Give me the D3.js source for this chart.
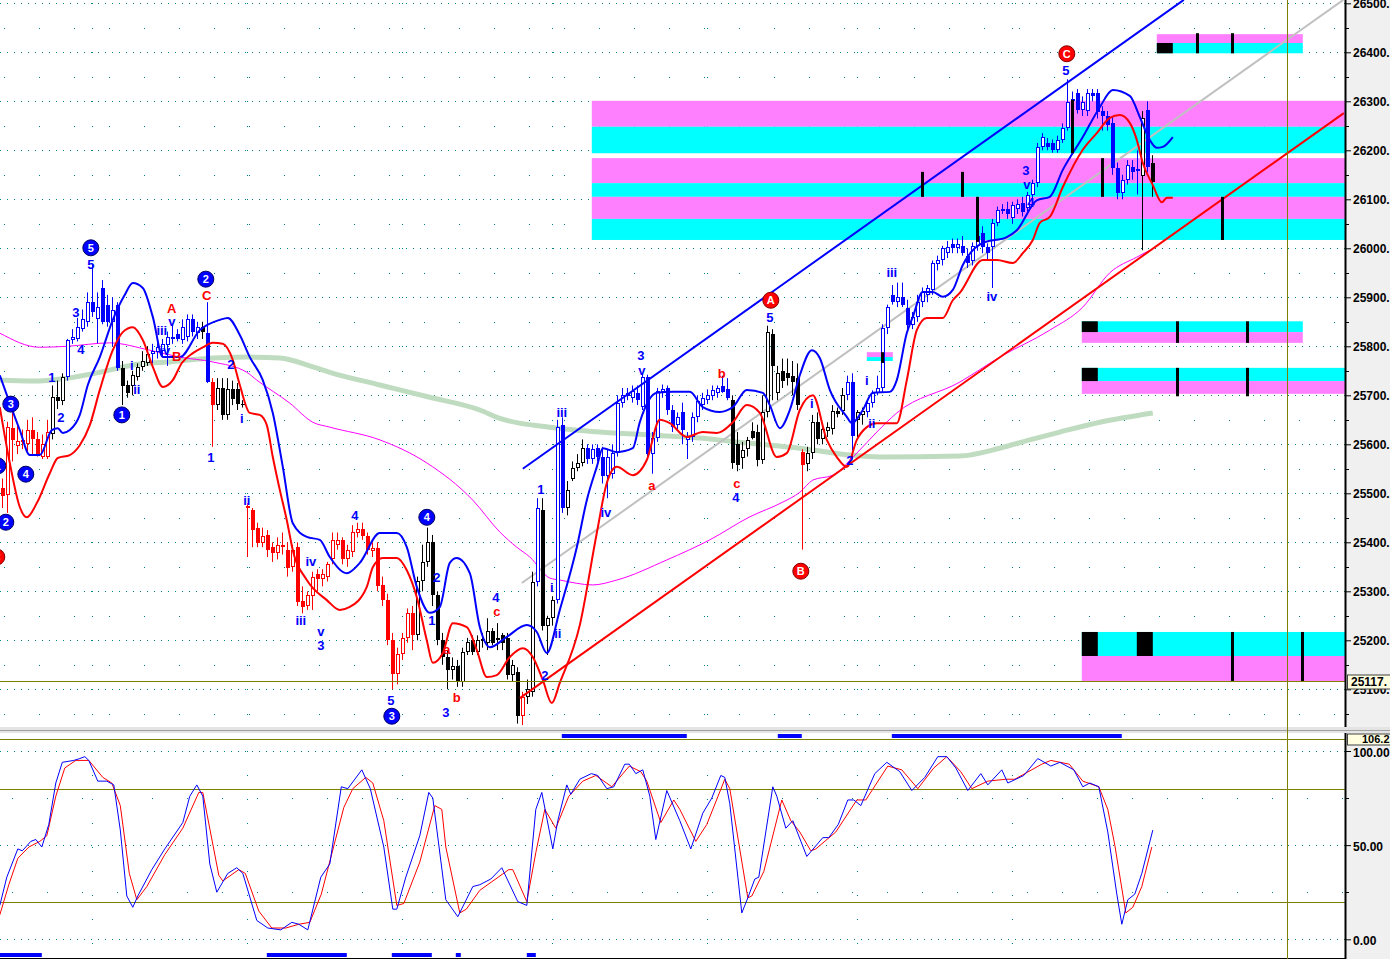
<!DOCTYPE html>
<html><head><meta charset="utf-8">
<script src="https://cdn.jsdelivr.net/npm/d3@7"></script>
<style>body{margin:0;background:#fff;overflow:hidden}svg{display:block}</style>
</head><body><svg id="c" width="1390" height="959"></svg>
<script>
// ---------- DATA ----------
const candleOpen=[25510,25497,25633,25596,25605,25600,25630,25610,25575,25575,
25622,25697,25688,25738,25812,25815,25835,25850,25890,25855,
25920,25885,25850,25885,25755,25722,25718,25738,25758,25765,
25785,25788,25790,25802,25818,25825,25812,25818,25855,25828,
25840,25828,25728,25680,25715,25660,25713,25713,25683,25475,
25466,25430,25398,25415,25390,25378,25395,25385,25350,25390,
25280,25270,25290,25335,25325,25330,25365,25395,25405,25365,
25380,25418,25428,25412,25383,25388,25312,25282,25200,25132,
25173,25204,25255,25210,25322,25360,25400,25292,25200,25165,
25140,25147,25115,25177,25200,25177,25198,25195,25218,25200,
25210,25205,25130,25135,25045,25085,25095,25320,25465,25230,
25245,25282,25640,25470,25530,25552,25562,25593,25570,25592,
25575,25535,25540,25582,25685,25705,25695,25705,25677,25737,
25580,25612,25706,25715,25670,25640,25665,25608,25615,25655,
25680,25690,25698,25705,25718,25712,25690,25600,25572,25590,
25628,25625,25568,25665,25825,25705,25750,25745,25740,25735,
25585,25560,25583,25645,25610,25628,25632,25668,25668,25700,
25727,25650,25660,25665,25685,25705,25715,25837,25905,25890,
25900,25878,25843,25860,25890,25905,25915,25968,25976,25990,
26008,26000,26005,25985,25975,26005,26031,26003,26003,26052,
26076,26080,26062,26080,26092,26082,26109,26133,26207,26215,
26215,26201,26221,26245,26300,26317,26282,26280,26317,26317,
26280,26270,26256,26164,26113,26139,26165,26162,26147,26282,
26174];
const candleHigh=[25530,25646,25665,25640,25630,25650,25655,25625,25620,25650,
25720,25730,25745,25815,25835,25858,25875,25910,25966,25910,
25935,25905,25900,25890,25770,25730,25750,25765,25790,25800,
25805,25810,25815,25830,25845,25835,25855,25865,25865,25850,
25850,25890,25735,25735,25735,25735,25730,25725,25690,25480,
25470,25440,25430,25425,25400,25410,25420,25400,25395,25400,
25310,25300,25340,25345,25345,25360,25420,25420,25410,25395,
25435,25440,25440,25420,25400,25400,25330,25295,25215,25185,
25215,25265,25270,25330,25395,25430,25415,25300,25215,25180,
25165,25160,25185,25205,25210,25210,25215,25245,25225,25235,
25215,25215,25160,25145,25095,25120,25340,25490,25490,25250,
25290,25650,25655,25525,25565,25580,25610,25600,25600,25600,
25595,25590,25600,25700,25715,25715,25720,25720,25745,25742,
25625,25715,25722,25720,25680,25665,25685,25625,25665,25700,
25705,25712,25720,25720,25740,25735,25700,25625,25605,25615,
25645,25640,25700,25842,25835,25760,25775,25775,25770,25765,
25590,25595,25660,25665,25640,25645,25680,25675,25715,25740,
25745,25670,25675,25690,25710,25740,25845,25885,25925,25930,
25930,25895,25870,25905,25920,25925,25975,25985,26005,26015,
26020,26020,26025,26000,26012,26035,26045,26010,26060,26085,
26090,26095,26095,26100,26105,26115,26140,26215,26235,26225,
26222,26230,26255,26345,26320,26325,26310,26325,26325,26325,
26290,26280,26270,26175,26150,26180,26180,26200,26280,26300,
26190];
const candleLow=[25470,25460,25565,25580,25590,25585,25580,25575,25570,25570,
25610,25672,25680,25730,25805,25810,25830,25840,25860,25806,
25845,25840,25800,25750,25680,25695,25700,25730,25750,25760,
25765,25775,25780,25760,25805,25810,25805,25810,25820,25815,
25815,25725,25595,25670,25650,25650,25680,25670,25675,25370,
25390,25390,25390,25370,25360,25365,25375,25330,25340,25270,
25255,25262,25262,25300,25310,25320,25355,25385,25355,25350,
25370,25410,25405,25375,25370,25300,25270,25190,25100,25110,
25160,25195,25180,25200,25300,25350,25270,25190,25150,25100,
25120,25105,25105,25170,25170,25170,25185,25180,25190,25180,
25180,25120,25115,25030,25027,25070,25085,25310,25220,25170,
25230,25275,25460,25455,25525,25545,25555,25560,25560,25565,
25520,25490,25530,25575,25675,25690,25685,25680,25670,25570,
25540,25605,25695,25660,25625,25630,25600,25570,25605,25645,
25670,25682,25690,25695,25705,25690,25550,25545,25550,25575,
25610,25555,25560,25655,25690,25690,25715,25720,25700,25670,
25385,25545,25570,25600,25600,25615,25620,25655,25660,25690,
25570,25615,25640,25655,25675,25700,25705,25825,25885,25880,
25880,25830,25835,25850,25880,25890,25905,25955,25965,25980,
25990,25990,25985,25960,25965,25995,25990,25975,25919,26045,
26070,26060,26050,26070,26065,26075,26100,26125,26200,26200,
26195,26195,26215,26240,26285,26275,26270,26270,26300,26265,
26240,26240,26150,26100,26100,26130,26140,26110,25996,26155,
26105];
const candleClose=[25495,25636,25608,25606,25608,25630,25610,25580,25600,25625,
25697,25688,25738,25812,25818,25840,25855,25890,25870,25880,
25850,25850,25875,25755,25718,25705,25742,25758,25770,25785,
25790,25798,25805,25818,25820,25815,25840,25855,25830,25840,
25830,25728,25680,25715,25660,25713,25693,25683,25680,25470,
25425,25398,25412,25384,25378,25395,25390,25348,25385,25278,
25268,25292,25330,25325,25335,25355,25405,25405,25365,25385,
25420,25428,25412,25385,25388,25310,25282,25200,25132,25173,
25204,25255,25210,25322,25360,25400,25292,25200,25165,25140,
25147,25115,25177,25197,25177,25200,25202,25218,25195,25205,
25195,25130,25150,25045,25085,25100,25320,25470,25230,25245,
25282,25636,25470,25507,25552,25562,25593,25570,25590,25575,
25535,25575,25582,25685,25700,25698,25708,25690,25737,25580,
25612,25708,25712,25670,25635,25655,25630,25615,25655,25688,
25695,25700,25710,25715,25706,25695,25562,25558,25588,25608,
25612,25568,25665,25830,25760,25745,25730,25735,25728,25680,
25558,25583,25645,25610,25632,25635,25668,25662,25700,25727,
25616,25665,25668,25685,25705,25715,25837,25880,25890,25900,
25885,25843,25860,25890,25910,25918,25970,25976,26000,26003,
26000,26008,25990,25970,26005,26025,26003,25990,26052,26078,
26080,26070,26088,26090,26074,26109,26133,26207,26227,26207,
26201,26221,26245,26299,26305,26282,26299,26317,26310,26278,
26270,26252,26164,26113,26139,26170,26155,26158,26266,26166,
26135];
// candle colour class by runs: r = red (downtrend), b = blue (uptrend), k = neutral black
const toneRuns=[["r",10],["k",3],["b",11],["k",6],["b",10],["k",1],["b",1],["r",1],["k",6],["r",34],["k",21],["r",1],["k",2],["b",1],["k",3],["b",2],["k",4],["b",29],["k",14],["r",1],["k",8],["b",2],["k",2],["b",55],["k",1],["b",1],["k",1]];

// indicator lines, [bar index, price]
const bandUpper=[[-0.5,25741],[3.5,25629],[5.5,25578],[7.5,25578],[9.9,25629],[11.1,25633],[12.1,25623],[13.5,25629],[15.5,25660],[17.1,25721],[19.5,25778],[22.1,25854],[24.5,25905],[26.1,25929],[28.1,25919],[30.1,25860],[32.1,25778],[35.5,25778],[39.5,25833],[43.5,25854],[45.1,25858],[47.5,25823],[49.5,25778],[52.1,25731],[54.1,25664],[56.1,25554],[58.1,25439],[60.9,25411],[63.5,25405],[65.5,25370],[68.9,25337],[71.5,25358],[75.5,25419],[78.9,25419],[80.9,25390],[82.9,25309],[85.5,25256],[87.5,25268],[89.5,25358],[90.9,25368],[93.5,25337],[95.5,25227],[97.5,25186],[100.9,25207],[104.9,25231],[106.9,25217],[108.9,25174],[111.5,25262],[114.9,25390],[116.9,25486],[118.9,25554],[120.1,25592],[122.9,25584],[126.1,25592],[127.5,25645],[130.9,25705],[134.1,25707],[137.5,25707],[140.1,25676],[143.5,25666],[146.1,25676],[148.9,25711],[152.1,25705],[153.5,25680],[155.5,25633],[157.5,25670],[159.5,25741],[161.9,25792],[163.5,25776],[165.5,25711],[168.9,25656],[169.9,25643],[172.1,25670],[174.1,25705],[177.5,25707],[178.9,25731],[180.9,25827],[182.1,25860],[184.1,25911],[186.1,25911],[188.1,25901],[190.1,25915],[192.1,25966],[196.1,26011],[200.9,26023],[202.9,26037],[206.9,26098],[209.5,26105],[212.1,26160],[216.1,26227],[219.5,26288],[222.1,26323],[225.5,26311],[227.5,26268],[229.5,26221],[230.9,26205],[232.1,26207],[234.1,26227]];
const bandLower=[[-0.5,25676],[1.5,25562],[3.5,25472],[4.9,25451],[6.9,25480],[9.5,25541],[11.1,25572],[13.5,25578],[15.5,25598],[17.5,25639],[19.5,25711],[22.1,25792],[24.1,25829],[26.1,25839],[28.1,25813],[30.1,25758],[32.1,25717],[34.1,25731],[35.9,25766],[38.1,25786],[40.1,25798],[42.1,25807],[44.1,25805],[46.1,25772],[47.5,25721],[49.5,25664],[51.5,25660],[52.9,25639],[54.1,25574],[55.5,25507],[56.9,25445],[58.1,25384],[60.9,25323],[64.9,25282],[67.5,25262],[69.5,25268],[72.9,25309],[74.1,25349],[76.1,25368],[78.9,25368],[80.9,25343],[82.9,25288],[84.9,25200],[86.1,25154],[88.1,25174],[90.1,25235],[92.9,25227],[94.9,25180],[96.9,25125],[98.9,25129],[101.5,25166],[104.1,25184],[106.1,25166],[108.1,25119],[109.9,25072],[111.5,25113],[115.5,25231],[118.9,25419],[120.9,25521],[122.9,25554],[126.1,25537],[128.9,25568],[131.5,25650],[133.5,25643],[136.9,25615],[140.1,25625],[142.9,25623],[146.1,25645],[148.9,25680],[151.5,25664],[154.9,25574],[156.9,25582],[159.5,25670],[162.1,25700],[164.9,25609],[166.9,25574],[168.9,25554],[170.9,25609],[172.9,25635],[174.9,25643],[178.9,25643],[180.9,25731],[182.9,25833],[184.9,25858],[188.1,25858],[190.1,25894],[191.5,25909],[196.1,25976],[198.9,25976],[202.1,25970],[204.1,25990],[206.1,26017],[207.5,26052],[209.5,26064],[212.1,26125],[216.1,26201],[218.9,26235],[221.5,26266],[223.5,26272],[225.5,26256],[226.9,26221],[228.1,26174],[230.1,26129],[231.9,26094],[232.9,26103],[234.1,26103]];
const maSlow=[[-0.5,25827],[7.5,25798],[12.9,25800],[21.5,25807],[29.5,25792],[35.5,25778],[42.1,25768],[48.9,25747],[50.9,25731],[57.5,25684],[62.1,25645],[65.5,25635],[75.5,25609],[84.9,25562],[94.1,25486],[99.5,25421],[102.9,25390],[105.5,25370],[109.5,25327],[111.5,25323],[118.1,25313],[122.9,25323],[132.9,25364],[141.5,25405],[149.5,25452],[156.1,25482],[159.5,25502],[162.1,25527],[166.1,25537],[170.9,25582],[174.9,25625],[178.9,25664],[191.5,25727],[199.5,25778],[209.5,25833],[216.1,25880],[221.5,25950],[226.9,25982],[229.5,25996]];
const maLong=[[-0.5,25731],[6.1,25729],[12.9,25735],[19.5,25747],[26.1,25762],[32.9,25768],[39.5,25774],[48.9,25778],[55.5,25776],[62.1,25758],[65.5,25747],[75.5,25721],[85.5,25696],[95.5,25670],[99.5,25653],[109.5,25635],[119.5,25625],[129.5,25619],[139.5,25613],[149.5,25602],[159.5,25592],[169.5,25578],[175.5,25574],[191.5,25576],[199.5,25592],[205.5,25609],[211.5,25625],[219.5,25645],[230.1,25664]];

// trend lines [idx1, price1, idx2, price2]
const trendBlue=[104.1,25550,236.3,26507];
const trendGray=[103.9,25317,268.2,26507];
const trendRed=[103.5,25082,268.3,26276];

// zone bands [idx0, idx1, priceTop, priceBottom, colour]
const bandRows=[[117.9,268.6,26301,26248,"m"],[117.9,268.6,26248,26194,"c"],[117.9,268.6,26184,26133,"m"],[117.9,268.6,26133,26105,"c"],[117.9,268.6,26105,26060,"m"],[117.9,268.6,26060,26017,"c"],
[230.9,260.1,26437,26419,"m"],[230.9,260.1,26419,26398,"c"],
[215.9,260.1,25851,25829,"c"],[215.9,260.1,25829,25807,"m"],
[215.9,268.6,25756,25729,"c"],[215.9,268.6,25729,25703,"m"],
[215.9,268.6,25217,25168,"c"],[215.9,268.6,25168,25117,"m"],
[172.9,178.1,25788,25778,"m"],[172.9,178.1,25778,25770,"c"]];
const bandBlocks=[[230.9,234.1,26419,26398],[215.9,219.1,25851,25829],[215.9,219.1,25756,25729],[215.9,219.1,25217,25168],[226.9,230.1,25217,25168]];
const bandTicks=[[184,26156,26105],[192,26156,26105],[195,26105,26013],[214,26303,26194],[220,26184,26105],[244,26105,26017],[239,26439,26398],[246,26439,26398],[235,25851,25807],[249,25851,25807],[235,25756,25698],[249,25756,25698],[246,25217,25115],[260,25217,25115],[176,25788,25766]];

// Elliott wave labels [text, idx, price, colour]
const waveLabels=[["5",17.7,25968,"b"],["3",14.7,25870,"b"],["4",15.7,25794,"b"],["1",9.9,25737,"b"],["2",11.7,25656,"b"],["i",25.9,25762,"b"],["ii",26.9,25713,"b"],["iii",31.9,25833,"b"],["v",33.9,25852,"b"],["A",33.9,25878,"r"],["iv",32.5,25792,"b"],["B",34.9,25780,"r"],["C",40.9,25905,"r"],["2",45.7,25764,"b"],["1",41.7,25574,"b"],["i",47.9,25654,"b"],["ii",48.9,25486,"b"],["iii",59.7,25241,"b"],["iv",61.7,25362,"b"],["v",63.7,25219,"b"],["3",63.7,25190,"b"],["4",70.5,25456,"b"],["5",77.7,25078,"b"],["2",86.9,25329,"b"],["1",85.9,25241,"b"],["a",88.9,25182,"r"],["b",90.9,25084,"r"],["3",88.7,25053,"b"],["4",98.7,25288,"b"],["c",98.9,25260,"r"],["1",107.7,25509,"b"],["2",108.5,25129,"b"],["i",109.9,25309,"b"],["ii",111.1,25215,"b"],["iii",111.9,25666,"b"],["iv",120.7,25462,"b"],["3",127.7,25782,"b"],["v",127.9,25752,"b"],["a",129.9,25517,"r"],["b",143.9,25745,"r"],["c",146.9,25521,"r"],["4",146.7,25492,"b"],["5",153.5,25860,"b"],["i",161.9,25684,"b"],["i",172.9,25731,"b"],["ii",173.9,25643,"b"],["2",169.5,25568,"b"],["iii",177.9,25950,"b"],["iv",197.9,25901,"b"],["3",204.7,26160,"b"],["v",204.9,26131,"b"],["4",205.7,26094,"b"],["5",212.7,26364,"b"]];
const circleLabels=[["5",17.7,26001,"b"],["2",40.7,25937,"b"],["3",1.7,25682,"b"],["4",4.7,25539,"b"],["2",0.7,25441,"b"],["1",23.9,25660,"b"],["4",84.9,25451,"b"],["3",77.9,25045,"b"],["1",-0.9,25556,"b"],["C",212.9,26397,"r"],["A",153.7,25894,"r"],["B",159.7,25341,"r"],["C",-1.1,25370,"r"]];

// stochastic oscillator [idx, value]
const stochK=[[-0.5,18],[0.9,33],[3.1,48],[4.0,47],[5.7,52],[6.7,53],[7.9,49],[9.3,61],[10.7,83],[12.0,94],[14.3,95],[15.5,96],[16.5,97],[17.3,95],[19.1,84],[20.9,84],[22.3,82],[23.6,58],[24.9,23],[26.1,17],[27.1,23],[29.9,37],[32.5,48],[36.1,62],[37.5,76],[38.9,82],[40.1,76],[41.5,40],[42.9,25],[45.1,35],[46.9,38],[48.1,35],[50.9,10],[53.1,6],[55.7,5],[57.9,9],[59.3,8],[61.1,5],[63.7,33],[65.5,40],[67.8,81],[69.1,80],[71.9,90],[73.6,80],[76.3,49],[78.1,16],[78.9,16],[80.7,33],[83.5,55],[85.3,78],[86.1,75],[88.7,21],[91.1,12],[94.1,28],[95.5,29],[97.7,32],[99.9,38],[103.1,20],[104.9,18],[106.7,69],[107.9,78],[110.1,48],[111.1,63],[112.9,82],[113.7,77],[115.5,85],[117.8,88],[119.1,87],[120.9,80],[122.3,81],[124.5,93],[125.4,93],[126.7,88],[128.1,90],[129.5,76],[130.7,53],[132.9,79],[135.5,63],[137.7,48],[140.1,67],[141.9,75],[143.7,87],[144.5,86],[145.5,72],[147.9,14],[149.1,22],[150.5,32],[151.3,33],[154.1,81],[154.9,76],[156.7,59],[158.1,63],[160.9,44],[164.1,54],[165.3,54],[167.2,61],[169.1,74],[170.3,74],[171.7,71],[174.5,88],[176.9,94],[179.5,89],[181.9,79],[184.5,86],[187.1,97],[188.9,97],[190.7,91],[193.1,79],[195.7,88],[197.1,82],[199.9,90],[201.1,83],[204.3,87],[207.1,96],[209.7,92],[211.5,94],[214.3,90],[216.1,81],[217.5,83],[219.3,81],[221.1,57],[222.9,24],[223.9,8],[225.1,21],[226.5,24],[227.9,35],[230.1,58]];
const stochD=[[-0.5,13],[1.3,29],[3.1,43],[5.3,49],[7.5,52],[8.9,55],[10.7,76],[12.5,91],[14.7,95],[17.3,95],[20.1,86],[21.9,83],[23.6,71],[25.4,35],[26.9,21],[28.9,28],[32.5,45],[36.1,59],[39.3,78],[40.1,78],[43.3,34],[44.1,31],[47.3,37],[48.6,35],[51.3,15],[53.9,6],[56.7,6],[59.3,8],[61.5,9],[63.8,24],[68.3,70],[70.1,80],[72.7,86],[74.1,83],[76.3,63],[78.9,18],[80.3,19],[83.5,41],[86.5,71],[87.9,69],[88.7,49],[91.5,14],[92.8,16],[95.5,26],[101.3,37],[102.1,37],[104.9,20],[106.7,46],[108.5,69],[110.7,59],[113.3,76],[116.1,84],[118.7,87],[121.9,81],[125.4,92],[127.7,89],[128.9,84],[131.7,62],[134.3,74],[135.5,69],[138.7,52],[140.9,61],[144.5,85],[145.5,80],[149.1,22],[149.9,23],[152.3,36],[155.9,74],[157.7,63],[159.5,57],[161.7,47],[162.7,48],[166.7,57],[170.9,74],[172.7,74],[177.1,92],[179.9,90],[183.1,80],[186.3,91],[188.9,97],[191.7,89],[193.9,80],[197.1,84],[200.7,85],[202.5,85],[207.9,93],[209.7,95],[213.4,93],[216.1,84],[219.3,81],[221.1,69],[222.5,50],[224.7,14],[226.1,17],[227.9,28],[229.9,49]];
// signal strips [idx0, idx1]
const stripsTop=[[111.9,136.9],[155.1,159.9],[177.9,223.9]];
const stripsBottom=[[-0.5,7.9],[52.9,68.9],[77.9,85.9],[90.7,91.7],[104.9,106.7]];

const gridIdx=[18,49,80,110,141,171,202];
const priceTicks=[25100,25200,25300,25400,25500,25600,25700,25800,25900,26000,26100,26200,26300,26400,26500];
const stochTicks=[0,50,100];
const stochLevels=[20,80];
const lastPrice=25117, stochMax=106.2, markerIdx=257;

// ---------- SCALES ----------
const PX=1345, MAINB=727, LOWT=733;
const x=d3.scaleLinear().domain([0,230]).range([2.3,1152.3]);
const y=d3.scaleLinear().domain([25100,26400]).range([689.3,52.3]);
const ys=d3.scaleLinear().domain([0,100]).range([939.3,751]);
const FONT="'Liberation Sans', Arial, sans-serif";
const teal="#008080", olive="#808000";

const svg=d3.select("#c");
svg.append("rect").attr("width",1390).attr("height",959).attr("fill","#fff");
svg.append("rect").attr("x",PX).attr("y",0).attr("width",1390-PX).attr("height",959).attr("fill","#f0f0f0");
const defs=svg.append("defs");
defs.append("clipPath").attr("id","cm").append("rect").attr("x",0).attr("y",0).attr("width",PX).attr("height",MAINB);
defs.append("clipPath").attr("id","cl").append("rect").attr("x",0).attr("y",LOWT).attr("width",PX).attr("height",959-LOWT);

// ---------- MAIN PANEL ----------
const gm=svg.append("g").attr("clip-path","url(#cm)");
const px=v=>Math.round(v)+0.5;
// grid
priceTicks.forEach(p=>{
  gm.append("line").attr("x1",0).attr("x2",PX).attr("y1",px(y(p))).attr("y2",px(y(p)))
    .attr("stroke",teal).attr("stroke-dasharray","1,6");
  gm.append("line").attr("x1",4).attr("x2",PX).attr("y1",px(y(p-50))).attr("y2",px(y(p-50)))
    .attr("stroke",teal).attr("stroke-dasharray","1,34");
});
gridIdx.forEach(i=>{
  priceTicks.forEach(p=>{
    [p,p-50].forEach(q=>gm.append("rect").attr("x",Math.round(x(i))).attr("y",Math.round(y(q))).attr("width",1).attr("height",1).attr("fill",teal));
  });
});
// bands
const bandCol={m:"#ff80ff",c:"#00ffff"};
bandRows.forEach(b=>{
  gm.append("rect").attr("x",x(b[0])).attr("y",y(b[2])).attr("width",x(b[1])-x(b[0])).attr("height",y(b[3])-y(b[2])).attr("fill",bandCol[b[4]]);
});
bandBlocks.forEach(b=>{
  gm.append("rect").attr("x",x(b[0])).attr("y",y(b[2])).attr("width",x(b[1])-x(b[0])).attr("height",y(b[3])-y(b[2])).attr("fill","#000");
});
// moving averages
const lineIP=d3.line().x(d=>x(d[0])).y(d=>y(d[1])).curve(d3.curveMonotoneX);
gm.append("path").attr("d",lineIP(maLong)).attr("fill","none").attr("stroke","#c0dcc0").attr("stroke-width",5);
gm.append("path").attr("d",lineIP(maSlow)).attr("fill","none").attr("stroke","#ff00ff").attr("stroke-width",1);
// trend lines
function trend(t,col){gm.append("line").attr("x1",x(t[0])).attr("y1",y(t[1])).attr("x2",x(t[2])).attr("y2",y(t[3])).attr("stroke",col).attr("stroke-width",2);}
trend(trendGray,"#c0c0c0");
// candles
const tones=[];toneRuns.forEach(r=>{for(let k=0;k<r[1];k++)tones.push(r[0]);});
const toneCol={r:"#ff0000",b:"#0000ff",k:"#000000"};
const gc=gm.append("g");
candleOpen.forEach((o,i)=>{
  const c=candleClose[i],h=candleHigh[i],l=candleLow[i],col=toneCol[tones[i]];
  const cx=Math.round(x(i));
  gc.append("line").attr("x1",cx+0.5).attr("x2",cx+0.5).attr("y1",y(h)).attr("y2",y(l)).attr("stroke",col).attr("stroke-width",1);
  const top=Math.round(y(Math.max(o,c))), bot=Math.round(y(Math.min(o,c)));
  if(c<o){
    gc.append("rect").attr("x",cx-1).attr("y",top).attr("width",4).attr("height",Math.max(1,bot-top)).attr("fill",col);
  }else{
    gc.append("rect").attr("x",cx-0.5).attr("y",top+0.5).attr("width",3).attr("height",Math.max(1,bot-top-1)).attr("fill","#fff").attr("stroke",col).attr("stroke-width",1);
  }
});
// bands around price
gm.append("path").attr("d",lineIP(bandUpper)).attr("fill","none").attr("stroke","#0000ff").attr("stroke-width",2);
gm.append("path").attr("d",lineIP(bandLower)).attr("fill","none").attr("stroke","#ff0000").attr("stroke-width",2);
trend(trendBlue,"#0000ff");
trend(trendRed,"#ff0000");
// zone ticks
bandTicks.forEach(t=>{
  gm.append("rect").attr("x",Math.round(x(t[0]))-1).attr("y",y(t[1])).attr("width",3).attr("height",y(t[2])-y(t[1])).attr("fill","#000");
});
// last price line
gm.append("line").attr("x1",0).attr("x2",PX).attr("y1",px(y(lastPrice))).attr("y2",px(y(lastPrice))).attr("stroke",olive);
// wave labels
waveLabels.forEach(w=>{
  gm.append("text").attr("x",x(w[1])).attr("y",y(w[2])).attr("dy","0.36em").attr("text-anchor","middle")
    .attr("font-family",FONT).attr("font-size",13).attr("font-weight","bold")
    .attr("fill",w[3]==="r"?"#ff0000":"#0000ff").text(w[0]);
});
circleLabels.forEach(w=>{
  const g=gm.append("g").attr("transform",`translate(${x(w[1])},${y(w[2])})`);
  g.append("circle").attr("r",8).attr("fill",w[3]==="r"?"#ff0000":"#0000ff").attr("stroke",w[3]==="r"?"#800000":"#000060").attr("stroke-width",1);
  g.append("text").attr("dy","0.36em").attr("text-anchor","middle").attr("font-family",FONT).attr("font-size",11).attr("font-weight","bold").attr("fill","#fff").text(w[0]);
});

// ---------- SEPARATOR ----------
svg.append("rect").attr("x",0).attr("y",MAINB).attr("width",1390).attr("height",LOWT-MAINB).attr("fill","#e4e4e4");
svg.append("line").attr("x1",0).attr("x2",1390).attr("y1",730.5).attr("y2",730.5).attr("stroke","#a0a0a0");

// ---------- LOWER PANEL ----------
const gl=svg.append("g").attr("clip-path","url(#cl)");
stochTicks.forEach(v=>{
  gl.append("line").attr("x1",0).attr("x2",PX).attr("y1",px(ys(v))).attr("y2",px(ys(v))).attr("stroke",teal).attr("stroke-dasharray","1,6");
});
[25,75].forEach(v=>{
  gl.append("line").attr("x1",12).attr("x2",PX).attr("y1",px(ys(v))).attr("y2",px(ys(v))).attr("stroke",teal).attr("stroke-dasharray","1,34");
});
gridIdx.forEach(i=>{
  gl.append("line").attr("x1",px(x(i))).attr("x2",px(x(i))).attr("y1",ys(100)).attr("y2",959).attr("stroke",teal).attr("stroke-dasharray","1,23");
});
stochLevels.concat([stochMax]).forEach(v=>{
  gl.append("line").attr("x1",0).attr("x2",PX).attr("y1",px(ys(v))).attr("y2",px(ys(v))).attr("stroke",olive);
});
const lineS=d3.line().x(d=>x(d[0])).y(d=>ys(d[1]));
gl.append("path").attr("d",lineS(stochD)).attr("fill","none").attr("stroke","#ff0000").attr("stroke-width",1);
gl.append("path").attr("d",lineS(stochK)).attr("fill","none").attr("stroke","#0000ff").attr("stroke-width",1);
stripsTop.forEach(s=>{
  svg.append("rect").attr("x",x(s[0])).attr("y",734).attr("width",x(s[1])-x(s[0])).attr("height",4).attr("fill","#0000ff");
});
stripsBottom.forEach(s=>{
  svg.append("rect").attr("x",Math.max(0,x(s[0]))).attr("y",953).attr("width",x(s[1])-Math.max(0,x(s[0]))).attr("height",4).attr("fill","#0000ff");
});
svg.append("line").attr("x1",0).attr("x2",PX).attr("y1",958.5).attr("y2",958.5).attr("stroke","#000");

// vertical marker
svg.append("line").attr("x1",px(x(markerIdx))).attr("x2",px(x(markerIdx))).attr("y1",0).attr("y2",959).attr("stroke",olive);

// ---------- AXES ----------
svg.append("line").attr("x1",PX+0.5).attr("x2",PX+0.5).attr("y1",0).attr("y2",MAINB).attr("stroke","#000").attr("stroke-width",2);
svg.append("line").attr("x1",PX+0.5).attr("x2",PX+0.5).attr("y1",LOWT).attr("y2",959).attr("stroke","#000").attr("stroke-width",2);
const axisP=d3.axisRight(y).tickValues(priceTicks).tickSize(5).tickFormat(d=>d+".");
const ga=svg.append("g").attr("transform",`translate(${PX+1},0)`).call(axisP);
ga.select(".domain").remove();
ga.selectAll("text").attr("font-family",FONT).attr("font-size",12).attr("font-weight","bold").attr("fill","#000").attr("x",7);
ga.selectAll("line").attr("stroke","#000");
priceTicks.forEach(p=>svg.append("line").attr("x1",PX+1).attr("x2",PX+4).attr("y1",px(y(p-50))).attr("y2",px(y(p-50))).attr("stroke","#000"));
const axisS=d3.axisRight(ys).tickValues(stochTicks).tickSize(5).tickFormat(d=>d3.format(".2f")(d));
const gs=svg.append("g").attr("transform",`translate(${PX+1},0)`).call(axisS);
gs.select(".domain").remove();
gs.selectAll("text").attr("font-family",FONT).attr("font-size",12).attr("font-weight","bold").attr("fill","#000").attr("x",7).attr("dy","0.42em");
gs.selectAll("line").attr("stroke","#000");
[25,75].forEach(v=>svg.append("line").attr("x1",PX+1).attr("x2",PX+4).attr("y1",px(ys(v))).attr("y2",px(ys(v))).attr("stroke","#000"));
// value boxes
function valBox(yy,txt,tx,hgt,fs){
  svg.append("rect").attr("x",PX+2.5).attr("y",yy-hgt/2).attr("width",1390-PX).attr("height",hgt).attr("fill","#ffffe0").attr("stroke","#404040");
  svg.append("text").attr("x",tx).attr("y",yy).attr("dy","0.36em").attr("font-family",FONT).attr("font-size",fs).attr("font-weight","bold").attr("fill","#000").text(txt);
}
valBox(Math.round(y(lastPrice))+1,lastPrice+".",PX+6,14,12);
valBox(739.5,String(stochMax),PX+17,11,11);
</script></body></html>
